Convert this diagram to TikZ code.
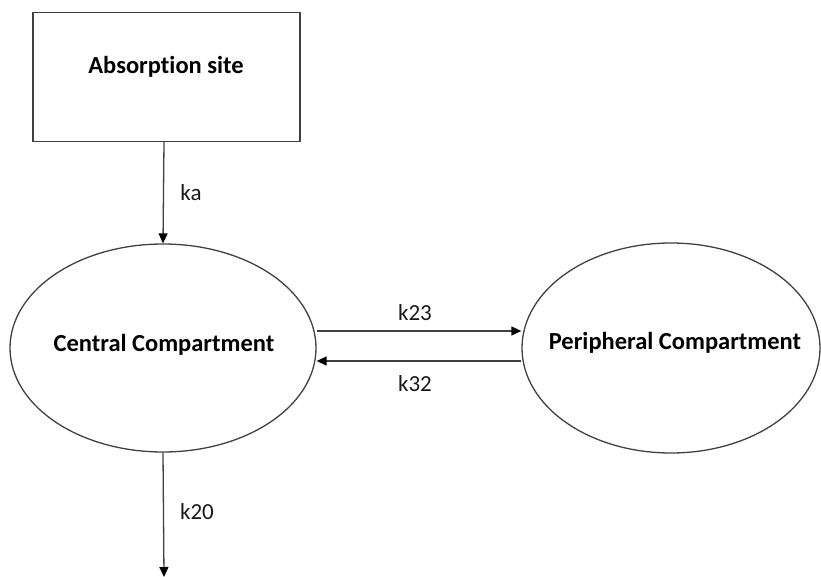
\documentclass[tikz,border=0pt]{standalone}
\usepackage{fontspec}
\setmainfont{Carlito}[Ligatures=CommonOff]
\usetikzlibrary{shapes.geometric,arrows.meta}
\begin{document}
\begin{tikzpicture}[x=1pt,y=-1pt,
  lbl/.style={font=\fontsize{23}{26}\selectfont, inner sep=0pt, text=black!90},
  ttl/.style={font=\fontsize{24.5}{28}\selectfont\bfseries, inner sep=0pt, text=black},
  conn/.style={draw=black!75, line width=1.3pt, -{Triangle[length=10pt,width=9pt,fill=black,color=black]}},
  shp/.style={draw=black!75, line width=1.3pt}]
\useasboundingbox (0,0) rectangle (821,577);
\node[shp, rectangle, minimum width=267pt, minimum height=129pt] (abs) at (166.5,77) {};
\node[ttl] (abst) at (166,67) {Absorption site};
\node[shp, ellipse, minimum width=306pt, minimum height=208pt, inner sep=0pt] (cen) at (163,348) {};
\node[ttl] (cent) at (164,345) {Central Compartment};
\node[shp, ellipse, minimum width=298pt, minimum height=210pt, inner sep=0pt] (per) at (671,348) {};
\node[ttl] (pert) at (675,343) {Peripheral Compartment};
\coordinate (out) at (164,577);
\draw[conn] (abs.south -| 164,0) -- (cen.north);
\node[lbl] (ka) at (191,193) {ka};
\draw[conn] (cen.east |- 0,331) -- (per.west |- 0,331);
\draw[conn] (per.west |- 0,361) -- (cen.east |- 0,361);
\node[lbl] (k23) at (415,313) {k23};
\node[lbl] (k32) at (415,384) {k32};
\draw[conn] (cen.south) -- (out);
\node[lbl] (k20) at (197,512) {k20};
\end{tikzpicture}
\end{document}
